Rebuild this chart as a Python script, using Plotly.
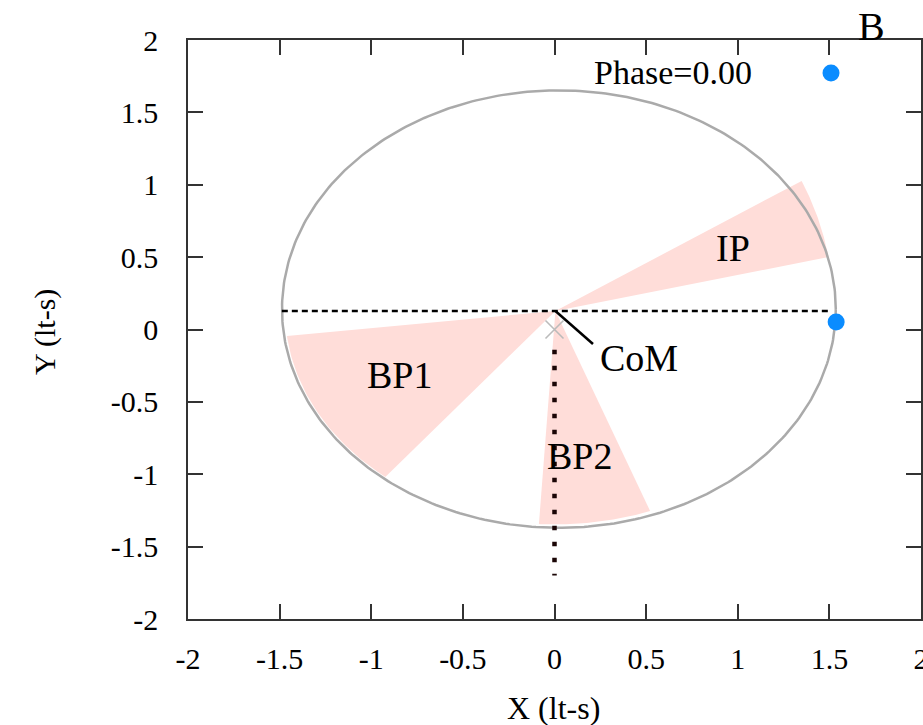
import numpy as np
import plotly.graph_objects as go

# Axis ticks
tick_vals = [-2, -1.5, -1, -0.5, 0, 0.5, 1, 1.5, 2]
tick_text = ["-2", "-1.5", "-1", "-0.5", "0", "0.5", "1", "1.5", "2"]

# Orbit of the binary (lt-s)
orbit_center = [0.024, 0.141]
orbit_radius = [1.511, 1.511]

# Wedge apex (position of the primary) and wedge geometry
apex = [0.005, 0.128]
wedge_names = ["IP", "BP1", "BP2"]
wedge_start_deg = [11.15, 186.7, 266.5]
wedge_end_deg = [27.8, 231.0, 290.5]
wedge_rx = [1.519, 1.475, 1.475]
wedge_ry = [1.927, 1.475, 1.475]
wedge_label_x = [0.975, -0.845, 0.136]
wedge_label_y = [0.56, -0.316, -0.875]

# Line of nodes (dashed) and line of sight (dotted)
nodes_x = [-1.488, 1.51]
nodes_y = [0.128, 0.128]
sight_x = [0.0, 0.0]
sight_y = [-0.14, -1.70]

# Centre of mass and its label pointer
com = [0.0, 0.0]
com_pointer_x = [0.005, 0.21]
com_pointer_y = [0.128, -0.10]
com_label = [0.463, -0.195]

# Star positions at this phase
star_x = [1.509, 1.537]
star_y = [1.772, 0.052]
phase_label = [0.645, 1.777]
phase_value = 0.00

FONT = "Liberation Serif"
PINK = "#ffddd9"

fig = go.Figure()

# Shaded wedges
for name, t0, t1, rx, ry in zip(wedge_names, wedge_start_deg, wedge_end_deg,
                                wedge_rx, wedge_ry):
    t = np.radians(np.linspace(t0, t1, 60))
    xs = np.concatenate([[apex[0]], apex[0] + rx * np.cos(t), [apex[0]]])
    ys = np.concatenate([[apex[1]], apex[1] + ry * np.sin(t), [apex[1]]])
    fig.add_trace(go.Scatter(x=xs, y=ys, mode="lines", fill="toself",
                             fillcolor=PINK, line=dict(width=0),
                             hoverinfo="skip", showlegend=False, name=name))

# Orbit
th = np.linspace(0, 2 * np.pi, 400)
fig.add_trace(go.Scatter(x=orbit_center[0] + orbit_radius[0] * np.cos(th),
                         y=orbit_center[1] + orbit_radius[1] * np.sin(th),
                         mode="lines", line=dict(color="#aaaaaa", width=2.5),
                         hoverinfo="skip", showlegend=False))

# Line of nodes
fig.add_trace(go.Scatter(x=nodes_x, y=nodes_y, mode="lines",
                         line=dict(color="black", width=2.5, dash="6px,4px"),
                         showlegend=False))

# Line of sight
fig.add_trace(go.Scatter(x=sight_x, y=sight_y, mode="lines",
                         line=dict(color="#1a0505", width=4.5, dash="4.5px,11.5px"),
                         showlegend=False))

# Pointer to centre of mass
fig.add_trace(go.Scatter(x=com_pointer_x, y=com_pointer_y, mode="lines",
                         line=dict(color="black", width=2.5), showlegend=False))

# Centre of mass marker
fig.add_trace(go.Scatter(x=[com[0]], y=[com[1]], mode="markers",
                         marker=dict(symbol="x-thin", size=18,
                                     line=dict(color="#bbbbbb", width=1.6)),
                         showlegend=False))

# Stars
fig.add_trace(go.Scatter(x=star_x, y=star_y, mode="markers",
                         marker=dict(symbol="circle", size=17, color="#0a8cff"),
                         showlegend=False))

annotations = []
for name, lx, ly in zip(wedge_names, wedge_label_x, wedge_label_y):
    annotations.append(dict(x=lx, y=ly, xref="x", yref="y", text=name,
                            showarrow=False, font=dict(family=FONT, size=38, color="black")))
annotations.append(dict(x=com_label[0], y=com_label[1], xref="x", yref="y", text="CoM",
                        showarrow=False, font=dict(family=FONT, size=38, color="black")))
annotations.append(dict(x=phase_label[0], y=phase_label[1], xref="x", yref="y",
                        text=f"Phase={phase_value:.2f}", showarrow=False,
                        font=dict(family=FONT, size=34, color="black")))
annotations.append(dict(x=0.953, y=1.024, xref="paper", yref="paper", text="B",
                        showarrow=False, yanchor="middle",
                        font=dict(family=FONT, size=40, color="black")))
annotations.append(dict(x=0.498, y=-0.1537, xref="paper", yref="paper", text="X (lt-s)",
                        showarrow=False, yanchor="middle",
                        font=dict(family=FONT, size=32, color="black")))
annotations.append(dict(x=-0.195, y=0.4957, xref="paper", yref="paper", text="Y (lt-s)",
                        showarrow=False, textangle=-90, xanchor="center", yanchor="middle",
                        font=dict(family=FONT, size=30, color="black")))

axis_common = dict(range=[-2, 2], tickvals=tick_vals, ticktext=tick_text,
                   showline=True, linecolor="#333333", linewidth=1.5,
                   mirror="allticks", ticks="inside", ticklen=15, tickwidth=1.5,
                   tickcolor="#333333", showgrid=False, zeroline=False,
                   ticklabeloverflow="allow", automargin=False,
                   tickfont=dict(family=FONT, size=30, color="black"))

fig.update_layout(
    width=923, height=725,
    margin=dict(l=188, r=2, t=40, b=106, autoexpand=False),
    paper_bgcolor="white", plot_bgcolor="white",
    xaxis=dict(**axis_common, ticklabelstandoff=12),
    yaxis=dict(**axis_common, ticklabelstandoff=22),
    annotations=annotations,
    showlegend=False,
)

fig.write_html("out.html")
